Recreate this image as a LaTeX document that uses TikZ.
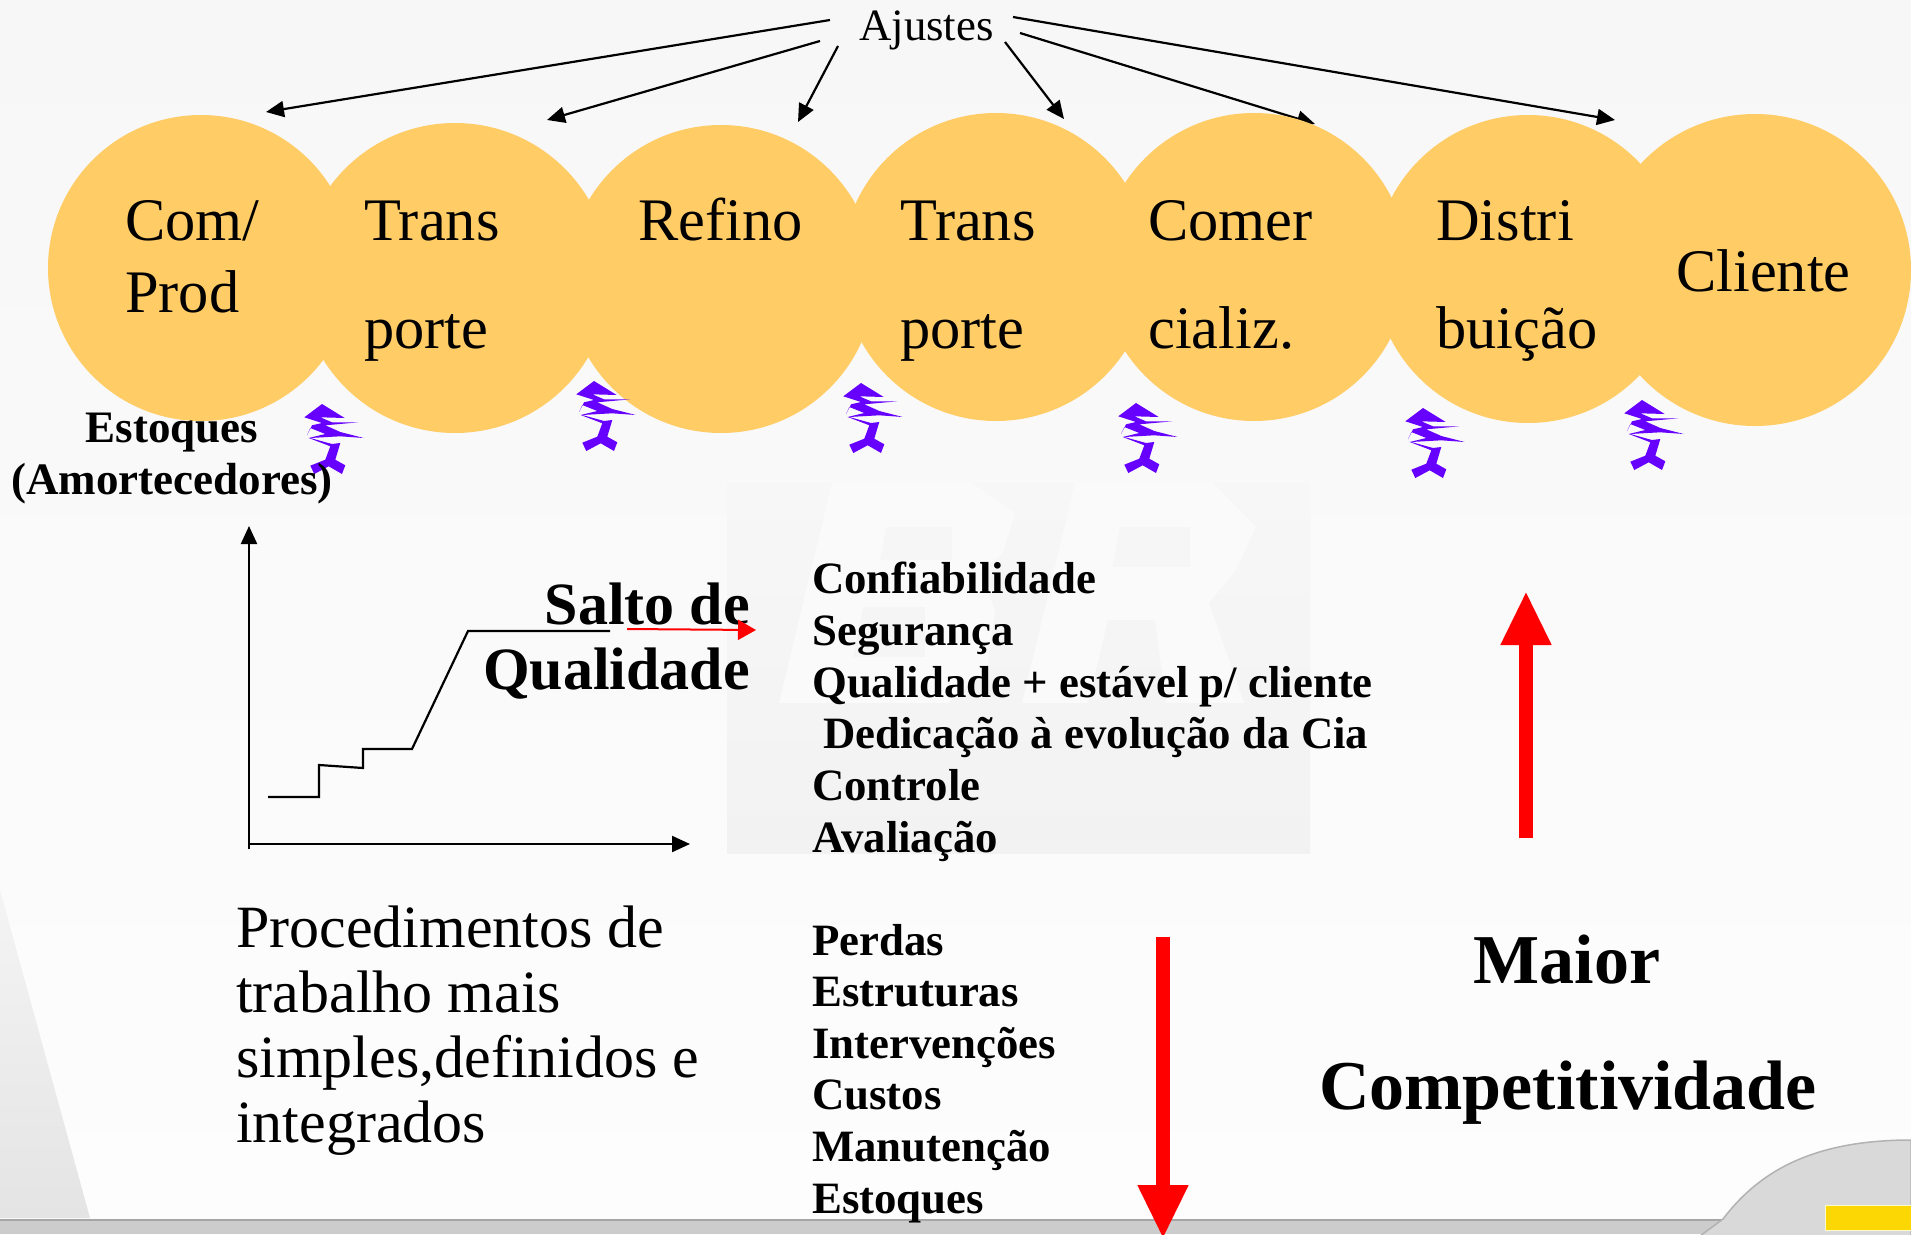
\documentclass[tikz,border=0pt]{standalone}
\usepackage{fontspec}
\setmainfont{Liberation Serif}
\usetikzlibrary{arrows.meta}
\definecolor{orangeC}{HTML}{FFCC66}
\definecolor{purpleC}{HTML}{6600FF}
\definecolor{bgtop}{HTML}{F7F7F7}
\definecolor{bgbot}{HTML}{FDFDFD}
\definecolor{wmtop}{HTML}{F7F7F7}
\definecolor{wmbot}{HTML}{F2F2F2}
\definecolor{wmlight}{HTML}{FAFAFA}
\definecolor{wedgeA}{HTML}{F4F4F4}
\definecolor{wedgeB}{HTML}{E4E4E4}
\tikzset{
  x=1pt,y=-1pt,
  bubble/.style={circle,fill=orangeC,inner sep=0pt,minimum size=#1},
  lbl/.style={inner sep=0pt,anchor=base west,font=\fontsize{60.4}{60}\selectfont},
  proc/.style={inner sep=0pt,anchor=base west,font=\fontsize{60}{60}\selectfont},
  bold42/.style={inner sep=0pt,anchor=base west,font=\fontsize{44.8}{44}\selectfont\bfseries},
  bigbold/.style={inner sep=0pt,anchor=base,font=\fontsize{70}{70}\selectfont\bfseries},
  thinarrow/.style={draw=black,line width=2.2pt,-{Triangle[length=18pt,width=16pt]}},
  redarrow/.style={draw=red,line width=14pt,-{Triangle[length=54pt,width=47pt]}},
  pics/spring/.style={code={
    \fill[purpleC] (0,0) -- (22.7,14) -- (-1.7,13.3) -- (10,18.3) -- (36.7,18.3) -- (3.3,21.3) -- (18.3,28) -- (41.7,34) -- (18.3,32.3) -- (-11.7,34) -- (10,40) -- (18.3,39) -- (13.3,55.7) -- (23.3,61.3) -- (20,70) -- (6.7,62.3) -- (-7.7,70) -- (-11.7,61.7) -- (3.3,55.7) -- (8.3,42.3) -- (-13.3,34) -- (3.3,30) -- (-11.7,24) -- (-15,31.3) -- (-10,21.3) -- (0,19) -- (-17.7,13.3) -- cycle;
  }}
}
\begin{document}
\begin{tikzpicture}
\useasboundingbox (0,0) rectangle (1911,1234);
% background
\shade[top color=bgtop,bottom color=bgbot] (0,0) rectangle (1911,1234);
\shade[top color=wedgeA,bottom color=wedgeB] (0,890) -- (90,1218) -- (0,1218) -- cycle;
\shade[top color=wmtop,bottom color=wmbot] (727,483) rectangle (1310,853);
\fill[wmlight,even odd rule] (832,483) -- (972,483) -- (1015,513) -- (1003,553) -- (980,573) -- (995,610) -- (987,670) -- (948,703) -- (779,703) -- cycle
  (886,527) -- (952,527) -- (952,560) -- (880,560) -- cycle
  (863,607) -- (925,607) -- (925,657) -- (853,657) -- cycle;
\fill[wmlight,even odd rule] (1075,483) -- (1213,483) -- (1256,527) -- (1236,570) -- (1209,603) -- (1244,703) -- (1166,703) -- (1155,620) -- (1108,620) -- (1088,703) -- (1022,703) -- cycle
  (1120,527) -- (1190,527) -- (1190,567) -- (1112,567) -- cycle;
\fill[black!20] (0,1220) rectangle (1911,1234);
\draw[black!35,line width=2pt] (0,1220) -- (1723,1220);
\fill[black!15,draw=black!30,line width=1.5pt] (1723,1219) .. controls (1760,1170) and (1815,1140) .. (1911,1140) -- (1911,1236) -- (1700,1236) -- cycle;
\fill[yellow!75!orange,draw=yellow!20,line width=1pt] (1825,1205) rectangle (1912,1230);
% Ajustes arrows (under the bubbles)
\node[inner sep=0pt,anchor=base west,font=\fontsize{44.8}{44}\selectfont] (aj) at (859,40) {Ajustes};
\coordinate (s1) at (830,20);
\coordinate (e1) at (266,112);
\coordinate (s2) at (820,41);
\coordinate (e2) at (547,120);
\coordinate (s3) at (838,46);
\coordinate (e3) at (798,122);
\coordinate (s4) at (1005,42);
\coordinate (e4) at (1064,119);
\coordinate (s5) at (1020,33);
\coordinate (e5) at (1315,124);
\coordinate (s6) at (1013,17);
\coordinate (e6) at (1615,120);
\foreach \a in {1,...,6} \draw[thinarrow] (s\a) -- (e\a);
% bubbles
\node[bubble=306pt] (c1) at (201,268) {};
\node[bubble=310pt] (c2) at (455,278) {};
\node[bubble=308pt] (c3) at (721,279) {};
\node[bubble=308pt] (c4) at (996,267) {};
\node[bubble=308pt] (c5) at (1254,267) {};
\node[bubble=308pt] (c6) at (1528,269) {};
\node[bubble=312pt] (c7) at (1755,270) {};
% bubble texts
\node[lbl] (t1a) at (125,240) {Com/};
\node[lbl] (t1b) at (125,312) {Prod};
\node[lbl] (t2a) at (364,240) {Trans};
\node[lbl] (t2b) at (364,348) {porte};
\node[lbl] (t3) at (638,240) {Refino};
\node[lbl] (t4a) at (900,240) {Trans};
\node[lbl] (t4b) at (900,348) {porte};
\node[lbl] (t5a) at (1148,240) {Comer};
\node[lbl] (t5b) at (1148,348) {cializ.};
\node[lbl] (t6a) at (1436,240) {Distri};
\node[lbl] (t6b) at (1436,348) {buição};
\node[lbl] (t7) at (1676,291) {Cliente};
% springs
\pic at (322,404) {spring};
\pic at (594,381) {spring};
\pic at (861,383) {spring};
\pic at (1136,403) {spring};
\pic at (1423,408) {spring};
\pic at (1642,400) {spring};
\node[inner sep=0pt,anchor=base,align=center,font=\fontsize{45}{52}\selectfont\bfseries] (est) at (172,494) {Estoques\\[0pt](Amortecedores)};
% chart
\coordinate (o) at (249,849);
\coordinate (ytip) at (249,526);
\coordinate (xtip) at (690,844);
\coordinate (orig) at (249,844);
\draw[thinarrow] (o) -- (ytip);
\draw[thinarrow] (orig) -- (xtip);
\coordinate (p0) at (268,797);
\coordinate (p1) at (319,797);
\coordinate (p2) at (319,765);
\coordinate (p3) at (363,768);
\coordinate (p4) at (363,749);
\coordinate (p5) at (412,749);
\coordinate (p6) at (468,631);
\coordinate (p7) at (610,631);
\draw[black,line width=2.2pt] (p0) -- (p1) -- (p2) -- (p3) -- (p4) -- (p5) -- (p6) -- (p7);
\node[inner sep=0pt,anchor=base east,font=\fontsize{60}{60}\selectfont\bfseries] (sq1) at (750,624) {Salto de};
\node[inner sep=0pt,anchor=base east,font=\fontsize{60}{60}\selectfont\bfseries] (sq2) at (750,689) {Qualidade};
\coordinate (ra) at (627,629);
\coordinate (rb) at (756,630);
\draw[draw=red,line width=2pt,-{Triangle[length=18pt,width=20pt]}] (ra) -- (rb);
% lists
\node[bold42] (l1) at (812,593) {Confiabilidade};
\node[bold42] (l2) at (812,645) {Segurança};
\node[bold42] (l3) at (812,697) {Qualidade + estável p/ cliente};
\node[bold42] (l4) at (823,748) {Dedicação à evolução da Cia};
\node[bold42] (l5) at (812,800) {Controle};
\node[bold42] (l6) at (812,852) {Avaliação};
\node[bold42] (m1) at (812,955) {Perdas};
\node[bold42] (m2) at (812,1006) {Estruturas};
\node[bold42] (m3) at (812,1058) {Intervenções};
\node[bold42] (m4) at (812,1109) {Custos};
\node[bold42] (m5) at (812,1161) {Manutenção};
\node[bold42] (m6) at (812,1213) {Estoques};
% procedures
\node[proc] (pr1) at (236,947) {Procedimentos de};
\node[proc] (pr2) at (236,1012) {trabalho mais};
\node[proc] (pr3) at (236,1077) {simples,definidos e};
\node[proc] (pr4) at (236,1142) {integrados};
% red arrows
\coordinate (ua) at (1526,838);
\coordinate (ub) at (1526,591);
\coordinate (da) at (1163,937);
\coordinate (db) at (1163,1239);
\draw[redarrow] (ua) -- (ub);
\draw[redarrow] (da) -- (db);
% Maior
\node[bigbold] (mc1) at (1567,983) {Maior};
\node[bigbold] (mc2) at (1568,1109) {Competitividade};
\end{tikzpicture}
\end{document}
